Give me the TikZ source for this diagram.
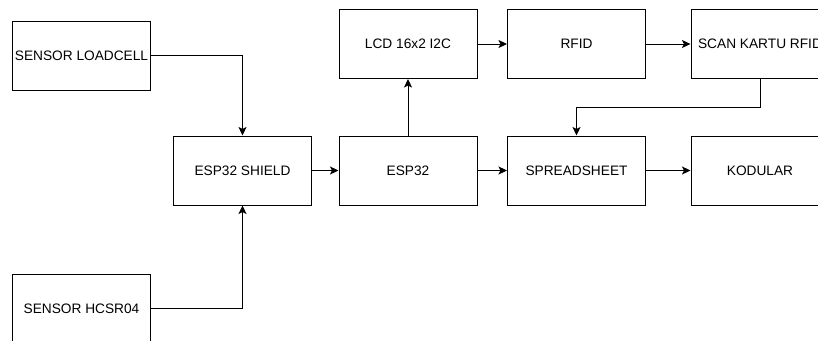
\documentclass[tikz,border=0pt]{standalone}
\usepackage{fontspec}
\setmainfont{Liberation Sans}
\usepackage{tikz}
\usetikzlibrary{arrows.meta}

\tikzset{
  box/.style={draw, line width=1pt, minimum width=138pt, minimum height=69pt, inner sep=1pt},
  arr/.style={line width=1pt, -{Stealth[length=8.5pt, width=8pt, inset=2pt]}}
}

\begin{document}
\begin{tikzpicture}[x=1pt, y=-1pt, font=\fontsize{13.7}{16}\selectfont]
\useasboundingbox (0,0) rectangle (818,340);
\foreach \n/\lab/\x/\y in {%
  loadcell/SENSOR LOADCELL/81.5/55.5, hcsr/SENSOR HCSR04/81.5/308.5,
  shield/ESP32 SHIELD/242.5/170.5, esp/ESP32/408/170.5,
  lcd/LCD 16x2 I2C/408/44, rfid/RFID/576.5/44, scan/SCAN KARTU RFID/760/44,
  sheet/SPREADSHEET/576.5/170.5, kodular/KODULAR/760/170.5}{%
  \node[box] (\n) at (\x, \y) {\lab};}
\coordinate (bend) at (576.5, 107);
\draw[arr] (loadcell.east) -| (shield.north);
\draw[arr] (hcsr.east) -| (shield.south);
\draw[arr] (shield) -- (esp);
\draw[arr] (esp) -- (lcd);
\draw[arr] (lcd) -- (rfid);
\draw[arr] (rfid) -- (scan);
\draw[arr] (esp) -- (sheet);
\draw[arr] (sheet) -- (kodular);
\draw[arr] (scan.south) |- (bend) -- (sheet.north);
\end{tikzpicture}
\end{document}
